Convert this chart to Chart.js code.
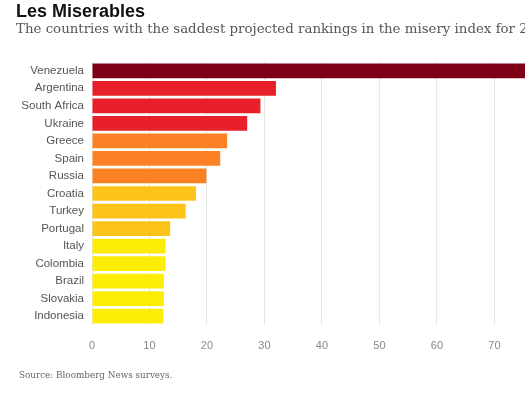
<!DOCTYPE html>
<html>
<head>
<meta charset="utf-8">
<script src="https://cdn.jsdelivr.net/npm/chart.js@4"></script>
<style>
  html, body { margin: 0; padding: 0; background: #fff; overflow: hidden; width: 525px; height: 395px; }
  #title { position: absolute; left: 16px; top: 1px; font: bold 18px "Liberation Sans", Arial, sans-serif; color: #111; white-space: nowrap; }
  #subtitle { position: absolute; left: 16px; top: 21px; font: 13.35px "DejaVu Serif", Georgia, serif; color: #555; white-space: nowrap; }
  #source { position: absolute; left: 19px; top: 370px; font: 8.8px "DejaVu Serif", Georgia, serif; color: #666; white-space: nowrap; }
  #wrap { position: absolute; left: 0; top: 0; }
</style>
</head>
<body>
<div id="wrap"><canvas id="myChart" width="572" height="395"></canvas></div>
<div id="title">Les Miserables</div>
<div id="subtitle">The countries with the saddest projected rankings in the misery index for 2016</div>
<div id="source">Source: Bloomberg News surveys.</div>
<script>
      const countries = [
        "Venezuela", "Argentina", "South Africa", "Ukraine", "Greece",
        "Spain", "Russia", "Croatia", "Turkey", "Portugal",
        "Italy", "Colombia", "Brazil", "Slovakia", "Indonesia",
      ];
      const misery = [
        159.7, 32.0, 29.3, 27.0, 23.5,
        22.3, 19.9, 18.1, 16.3, 13.6,
        12.8, 12.8, 12.5, 12.5, 12.4,
      ];
      // colour group per country
      const groups = [0, 1, 1, 1, 2, 2, 2, 3, 3, 3, 4, 4, 4, 4, 4];
      const colours = ["#7d0016", "#e8202a", "#fb8124", "#fcc419", "#fdec06"];

      const data = {
        labels: countries,
        datasets: [
          {
            label: "Misery index",
            data: misery,
            backgroundColor: (ctx) => colours[groups[ctx.dataIndex]],
            borderWidth: 0,
            barPercentage: 0.84,
            categoryPercentage: 1,
          },
        ],
      };

      const config = {
        type: "bar",
        data,
        options: {
          responsive: false,
          animation: false,
          indexAxis: "y",
          layout: {
            padding: { top: 62, right: 20, bottom: 0, left: 0 },
          },
          scales: {
            x: {
              min: 0,
              max: 80,
              ticks: {
                stepSize: 10,
                padding: 14,
                color: "#888",
                font: { family: "Liberation Sans", size: 11 },
              },
              grid: { color: "#e6e6e6", drawTicks: false },
              border: { display: false },
              afterFit: (scale) => {
                scale.height = 70;
              },
            },
            y: {
              ticks: {
                padding: 8,
                color: "#555",
                font: { family: "Liberation Sans", size: 11.5 },
              },
              grid: { display: false, drawTicks: false },
              border: { display: false },
              afterFit: (scale) => {
                scale.width = 92;
              },
            },
          },
          plugins: {
            legend: { display: false },
            tooltip: { enabled: false },
          },
        },
      };

      const myChart = new Chart(document.getElementById("myChart"), config);
</script>
</body>
</html>
